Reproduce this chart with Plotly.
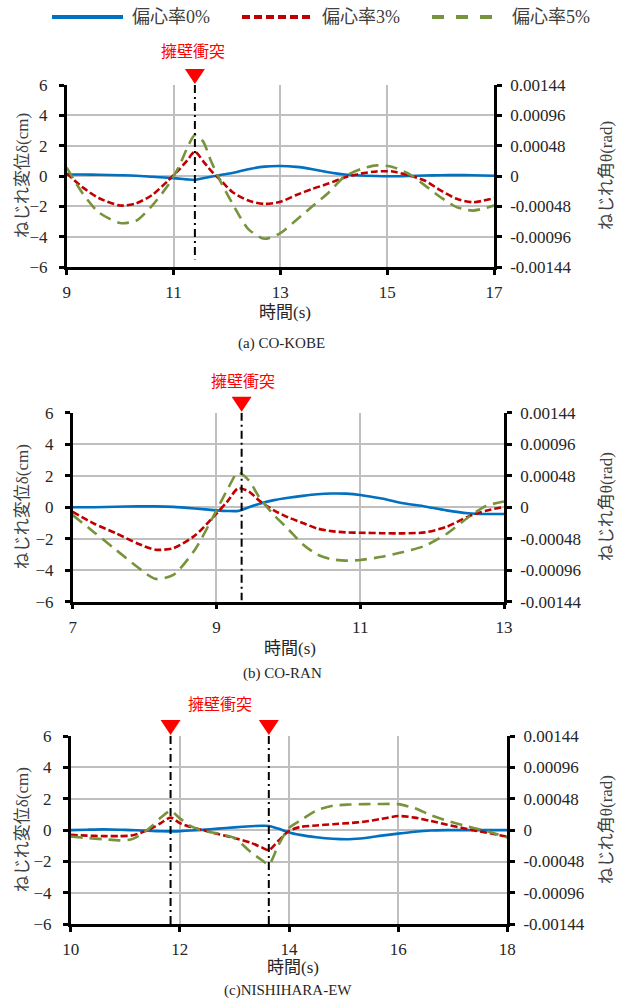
import plotly.graph_objects as go

# ---------------- data ----------------
series_names = ["偏心率0%", "偏心率3%", "偏心率5%"]

# (a) CO-KOBE
t_a = [9, 9.3, 9.6, 10, 10.3, 10.6, 10.9, 11.1, 11.25, 11.4, 11.55, 11.7, 11.9, 12.1, 12.4,
       12.7, 13.0, 13.3, 13.6, 13.9, 14.2, 14.5, 14.8, 15.1, 15.4, 15.7, 16.0, 16.3, 16.6, 17.0]
e0_a = [0.1, 0.1, 0.08, 0.05, 0.02, -0.05, -0.12, -0.17, -0.22, -0.26, -0.15, -0.05, 0.08, 0.2, 0.45,
        0.62, 0.66, 0.6, 0.45, 0.25, 0.1, 0.03, 0.0, -0.02, 0.0, 0.03, 0.05, 0.06, 0.05, 0.02]
e3_a = [0.17, -0.75, -1.45, -1.95, -1.8, -1.25, -0.3, 0.4, 1.0, 1.6, 1.0, 0.35, -0.35, -1.05, -1.62,
        -1.84, -1.7, -1.25, -0.85, -0.5, -0.1, 0.15, 0.3, 0.3, 0.05, -0.3, -0.95, -1.5, -1.73, -1.47]
e5_a = [0.55, -1.15, -2.4, -3.1, -2.95, -1.95, -0.6, 0.6, 1.8, 2.7, 2.3, 1.0, -0.5, -1.8, -3.5,
        -4.14, -3.77, -2.9, -2.0, -1.1, -0.05, 0.45, 0.7, 0.6, 0.15, -0.6, -1.4, -2.05, -2.28, -1.95]
hit_a = [11.4]

# (b) CO-RAN
t_b = [7, 7.3, 7.6, 7.9, 8.15, 8.4, 8.7, 9.0, 9.15, 9.3, 9.45, 9.6, 9.8, 10.0, 10.2, 10.4, 10.6,
       10.8, 11.0, 11.3, 11.6, 11.9, 12.2, 12.5, 12.75, 13.0]
e0_b = [0.0, 0.0, 0.03, 0.05, 0.05, 0.02, -0.08, -0.2, -0.24, -0.24, 0.0, 0.22, 0.45, 0.6, 0.72, 0.82,
        0.87, 0.86, 0.78, 0.55, 0.25, 0.05, -0.2, -0.38, -0.43, -0.43]
e3_b = [-0.3, -1.05, -1.65, -2.3, -2.7, -2.6, -1.8, -0.4, 0.35, 1.2, 1.0, 0.4, -0.2, -0.65, -1.0, -1.35,
        -1.52, -1.6, -1.62, -1.65, -1.66, -1.6, -1.25, -0.6, -0.22, 0.02]
e5_b = [-0.5, -1.6, -2.7, -3.8, -4.55, -4.3, -2.7, -0.2, 1.1, 2.2, 1.7, 0.6, -0.5, -1.4, -2.35, -3.0,
        -3.3, -3.39, -3.35, -3.15, -2.85, -2.45, -1.7, -0.65, 0.08, 0.36]
hit_b = [9.35]

# (c) NISHIHARA-EW
t_c = [10, 10.3, 10.6, 10.9, 11.1, 11.3, 11.5, 11.65, 11.83, 12.0, 12.2, 12.4, 12.7, 13.0, 13.3, 13.5,
       13.63, 13.8, 14.0, 14.2, 14.5, 14.8, 15.1, 15.4, 15.7, 16.0, 16.3, 16.6, 16.9, 17.2, 17.5, 17.8, 18.0]
e0_c = [0.0, 0.03, 0.05, 0.03, 0.0, -0.02, -0.05, -0.07, -0.08, -0.06, -0.02, 0.02, 0.1, 0.18, 0.25, 0.28,
        0.27, 0.1, -0.15, -0.3, -0.45, -0.55, -0.58, -0.5, -0.35, -0.22, -0.1, -0.02, 0.0, 0.0, 0.0, 0.0, 0.0]
e3_c = [-0.3, -0.35, -0.38, -0.38, -0.35, -0.15, 0.15, 0.45, 0.8, 0.45, 0.2, 0.02, -0.25, -0.5, -0.8, -1.1,
        -1.27, -0.7, -0.05, 0.2, 0.3, 0.38, 0.45, 0.55, 0.72, 0.9, 0.8, 0.58, 0.35, 0.12, -0.08, -0.28, -0.42]
e5_c = [-0.4, -0.5, -0.58, -0.65, -0.6, -0.25, 0.3, 0.8, 1.23, 0.75, 0.25, -0.02, -0.22, -0.5, -1.4, -1.9,
        -2.2, -1.0, 0.15, 0.6, 1.25, 1.55, 1.63, 1.66, 1.67, 1.66, 1.4, 0.95, 0.6, 0.3, 0.05, -0.25, -0.47]
hit_c = [11.83, 13.63]

captions = ["(a) CO-KOBE", "(b) CO-RAN", "(c)NISHIHARA-EW"]
x_ranges = [[9, 17], [7, 13], [10, 18]]
x_ticks = [[9, 11, 13, 15, 17], [7, 9, 11, 13], [10, 12, 14, 16, 18]]
y_ticks = [-6, -4, -2, 0, 2, 4, 6]
theta_ticks = [-0.00144, -0.00096, -0.00048, 0, 0.00048, 0.00096, 0.00144]
theta_labels = ["-0.00144", "-0.00096", "-0.00048", "0", "0.00048", "0.00096", "0.00144"]
hit_label = "擁壁衝突"
line_bottoms = [-5.5, -5.9, -6.0]

# ---------------- styling / layout ----------------
W, H = 635, 1001
colors = ["#0070C0", "#C00000", "#77933C"]
dashes = ["solid", "7px,3px", "12px,7px"]
SERIF = "Liberation Serif, Noto Sans CJK JP, serif"
CJK = "Noto Sans CJK JP, sans-serif"

def fx(p):
    return p / W

def fy(p):
    return 1 - p / H

# plot-area pixel boxes: (left, right, top, bottom)
boxes = [(66.7, 494, 85, 267), (72.7, 504, 412.7, 601.7), (70.7, 507.3, 736, 924.3)]
xtitle_y = [312, 648, 967]
xtitle_x = [285, 290, 293]
cap_y = [343, 673, 990]
cap_x = [281, 282, 288]
label_pos = [(193, 50), (243, 380), (220, 703)]

panels = [
    (t_a, [e0_a, e3_a, e5_a], hit_a),
    (t_b, [e0_b, e3_b, e5_b], hit_b),
    (t_c, [e0_c, e3_c, e5_c], hit_c),
]

fig = go.Figure()
layout = dict(
    template="none",
    width=W, height=H, margin=dict(l=0, r=0, t=0, b=0, autoexpand=False),
    paper_bgcolor="white", plot_bgcolor="white", showlegend=False,
    font=dict(family=SERIF, size=16, color="#262626"),
)
annotations = []
shapes = []

for i, (t, ys, hits) in enumerate(panels):
    xa = "x" if i == 0 else f"x{i+1}"
    yl = "y" if i == 0 else f"y{2*i+1}"
    yr = f"y{2*i+2}"
    xkey = "xaxis" if i == 0 else f"xaxis{i+1}"
    ylkey = "yaxis" if i == 0 else f"yaxis{2*i+1}"
    yrkey = f"yaxis{2*i+2}"
    L, R, T, B = boxes[i]

    # data lines
    for k in range(3):
        fig.add_trace(go.Scatter(
            x=t, y=ys[k], xaxis=xa, yaxis=yl, mode="lines", name=series_names[k],
            line=dict(color=colors[k], width=2.6, dash=dashes[k], shape="spline", smoothing=0.7),
            hoverinfo="skip"))
    # collision lines
    for h in hits:
        fig.add_trace(go.Scatter(
            x=[h, h], y=[6, line_bottoms[i]], xaxis=xa, yaxis=yl, mode="lines",
            line=dict(color="black", width=2, dash="8px,4px,2px,4px"), hoverinfo="skip"))
        # red triangle marker above the plot at the collision time
        dx = 10.0 * (x_ranges[i][1] - x_ranges[i][0]) / (R - L)
        ytop, ytip = fy(T - 16), fy(T - 1)
        shapes.append(dict(
            type="path", xref=xa, yref="paper",
            path=f"M {h - dx},{ytop} L {h + dx},{ytop} L {h},{ytip} Z",
            fillcolor="#FF0000", line=dict(width=0), layer="above"))
    # dummy for right axis
    fig.add_trace(go.Scatter(x=[t[0]], y=[0], xaxis=xa, yaxis=yr, mode="markers",
                             marker=dict(opacity=0), hoverinfo="skip"))

    common = dict(showline=True, linecolor="black", linewidth=2.5,
                  ticks="outside", ticklen=5, tickwidth=2.5, tickcolor="black",
                  tickfont=dict(family=SERIF, size=17, color="#262626"),
                  zeroline=False, automargin=False)
    layout[xkey] = dict(
        domain=[fx(L), fx(R)], anchor=yl, range=x_ranges[i], tickvals=x_ticks[i],
        showgrid=True, gridcolor="#BFBFBF", gridwidth=1.5, ticklabelstandoff=3, **common)
    layout[ylkey] = dict(
        domain=[fy(B), fy(T)], anchor=xa, range=[-6, 6], tickvals=y_ticks,
        showgrid=True, gridcolor="#BFBFBF", gridwidth=1.5, ticklabelstandoff=8, **common)
    layout[yrkey] = dict(
        domain=[fy(B), fy(T)], anchor=xa, overlaying=yl, side="right",
        range=[-0.00144, 0.00144], tickvals=theta_ticks, ticktext=theta_labels,
        showgrid=False, ticklabelstandoff=5, **common)

    mid = (T + B) / 2
    annotations += [
        dict(text="ねじれ変位δ(cm)", x=fx(22), y=fy(mid), xref="paper", yref="paper",
             textangle=-90, showarrow=False, xanchor="center", yanchor="middle",
             font=dict(family=SERIF, size=17, color="#404040")),
        dict(text="ねじれ角θ(rad)", x=fx(606), y=fy(mid), xref="paper", yref="paper",
             textangle=-90, showarrow=False, xanchor="center", yanchor="middle",
             font=dict(family=SERIF, size=17, color="#404040")),
        dict(text="時間(s)", x=fx(xtitle_x[i]), y=fy(xtitle_y[i]), xref="paper", yref="paper",
             showarrow=False, xanchor="center", yanchor="middle",
             font=dict(family=SERIF, size=17, color="#262626")),
        dict(text=captions[i], x=fx(cap_x[i]), y=fy(cap_y[i]), xref="paper", yref="paper",
             showarrow=False, xanchor="center", yanchor="middle",
             font=dict(family=SERIF, size=15, color="#262626")),
        dict(text=hit_label, x=fx(label_pos[i][0]), y=fy(label_pos[i][1]), xref="paper", yref="paper",
             showarrow=False, xanchor="center", yanchor="middle",
             font=dict(family=CJK, size=16, color="#FF0000")),
    ]

# manual legend at top
leg_lines = [(52, 123), (242, 313), (432, 503)]
leg_text_x = [130, 320, 510]
leg_y = 17
for k in range(3):
    shapes.append(dict(type="line", xref="paper", yref="paper",
                       x0=fx(leg_lines[k][0]), x1=fx(leg_lines[k][1]), y0=fy(leg_y), y1=fy(leg_y),
                       line=dict(color=colors[k], width=4,
                                 dash=["solid", "8px,4px", "12px,12px"][k])))
    annotations.append(dict(text=series_names[k], x=fx(leg_text_x[k]), y=fy(leg_y),
                            xref="paper", yref="paper", showarrow=False,
                            xanchor="left", yanchor="middle",
                            font=dict(family=SERIF, size=18, color="#404040")))

layout["annotations"] = annotations
layout["shapes"] = shapes
fig.update_layout(**layout)
fig.write_html("out.html")
